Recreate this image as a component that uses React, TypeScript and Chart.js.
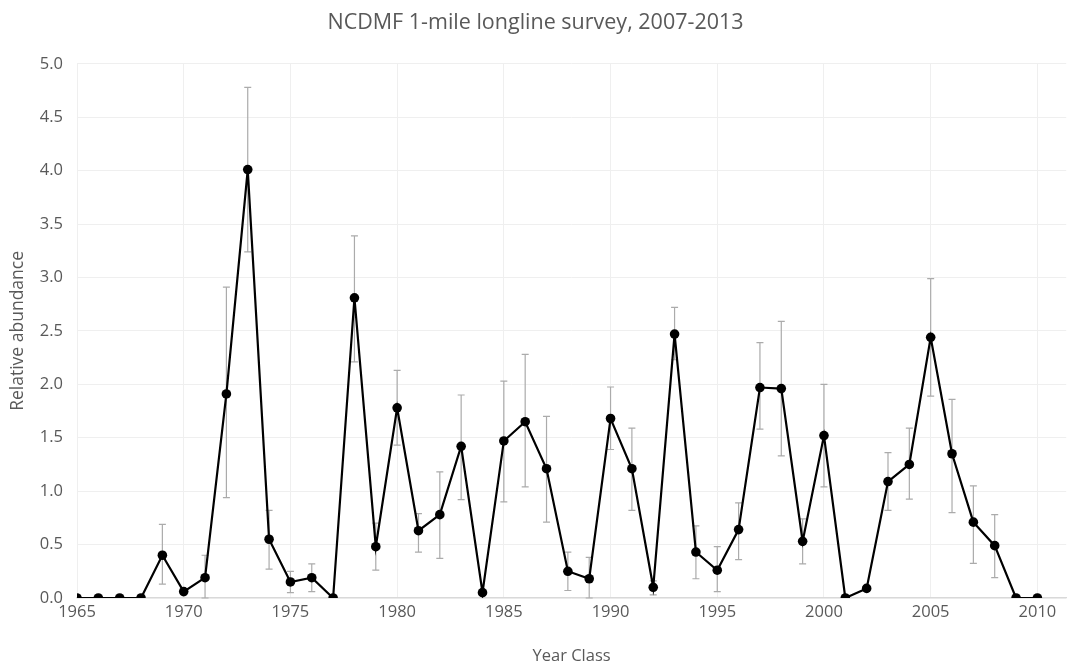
import React, { useEffect, useRef } from "react";
import { Chart, registerables } from "chart.js";

Chart.register(...registerables);

const TITLE = "NCDMF 1-mile longline survey, 2007-2013";
const X_TITLE = "Year Class";
const Y_TITLE = "Relative abundance";

const years = [
  1965, 1966, 1967, 1968, 1969, 1970, 1971, 1972, 1973, 1974,
  1975, 1976, 1977, 1978, 1979, 1980, 1981, 1982, 1983, 1984,
  1985, 1986, 1987, 1988, 1989, 1990, 1991, 1992, 1993, 1994,
  1995, 1996, 1997, 1998, 1999, 2000, 2001, 2002, 2003, 2004,
  2005, 2006, 2007, 2008, 2009, 2010,
];

const xTickValues = [1965, 1970, 1975, 1980, 1985, 1990, 1995, 2000, 2005, 2010];

const abundance = [
  0, 0, 0, 0, 0.40, 0.06, 0.19, 1.91, 4.01, 0.55,
  0.15, 0.19, 0.0, 2.81, 0.48, 1.78, 0.63, 0.78, 1.42, 0.05,
  1.47, 1.65, 1.21, 0.25, 0.18, 1.68, 1.21, 0.10, 2.47, 0.43,
  0.26, 0.64, 1.97, 1.96, 0.53, 1.52, 0.0, 0.09, 1.09, 1.25,
  2.44, 1.35, 0.71, 0.49, 0, 0,
];

const upper: (number | null)[] = [
  null, null, null, null, 0.69, null, 0.40, 2.91, 4.78, 0.82,
  0.25, 0.32, null, 3.39, 0.70, 2.13, 0.79, 1.18, 1.90, null,
  2.03, 2.28, 1.70, 0.43, 0.38, 1.975, 1.59, 0.16, 2.72, 0.675,
  0.48, 0.89, 2.39, 2.59, 0.74, 2.00, null, null, 1.36, 1.59,
  2.99, 1.86, 1.05, 0.78, null, null,
];

const lower: (number | null)[] = [
  null, null, null, null, 0.13, null, 0.0, 0.94, 3.24, 0.27,
  0.05, 0.06, null, 2.21, 0.26, 1.43, 0.43, 0.37, 0.92, null,
  0.90, 1.04, 0.71, 0.07, 0.0, 1.39, 0.82, 0.03, 2.23, 0.18,
  0.06, 0.36, 1.58, 1.33, 0.32, 1.04, null, null, 0.82, 0.925,
  1.89, 0.80, 0.325, 0.19, null, null,
];

const FONT = "'Open Sans', 'Noto Sans', sans-serif";
const GREY = "#595959";

const errorBarPlugin = {
  id: "errorBars",
  beforeDatasetsDraw(chart: any) {
    const { ctx, scales } = chart;
    const xs = scales.x;
    const ys = scales.y;
    ctx.save();
    ctx.strokeStyle = "#ababab";
    ctx.lineWidth = 1.2;
    const cap = 3.5;
    for (let i = 0; i < years.length; i++) {
      const hi = upper[i];
      const lo = lower[i];
      if (hi == null || lo == null) continue;
      const px = xs.getPixelForValue(years[i]);
      const pHi = ys.getPixelForValue(hi);
      const pLo = ys.getPixelForValue(lo);
      ctx.beginPath();
      ctx.moveTo(px, pHi);
      ctx.lineTo(px, pLo);
      ctx.moveTo(px - cap, pHi);
      ctx.lineTo(px + cap, pHi);
      ctx.moveTo(px - cap, pLo);
      ctx.lineTo(px + cap, pLo);
      ctx.stroke();
    }
    ctx.restore();
  },
};

export default function App() {
  const ref = useRef<HTMLCanvasElement | null>(null);

  useEffect(() => {
    if (!ref.current) return;
    const chart = new Chart(ref.current, {
      type: "scatter",
      data: {
        datasets: [
          {
            label: "Relative abundance",
            data: years.map((y, i) => ({ x: y, y: abundance[i] })),
            showLine: true,
            borderColor: "#000000",
            backgroundColor: "#000000",
            borderWidth: 2.2,
            pointRadius: 4.8,
            pointHoverRadius: 4.8,
            pointBorderWidth: 0,
            tension: 0,
          },
        ],
      },
      options: {
        animation: false,
        responsive: false,
        maintainAspectRatio: false,
        layout: { padding: { left: 0, right: 0, top: 0, bottom: 0 } },
        plugins: {
          legend: { display: false },
          tooltip: { enabled: false },
          title: {
            display: true,
            text: TITLE,
            color: GREY,
            font: { family: FONT, size: 21.5, weight: "normal" },
            padding: { top: 10, bottom: 28 },
          },
        },
        scales: {
          x: {
            type: "linear",
            min: 1965,
            max: 2011.35,
            afterBuildTicks: (scale: any) => {
              scale.ticks = xTickValues.map((v) => ({ value: v }));
            },
            afterFit: (scale: any) => {
              scale.height = 68;
            },
            ticks: {
              color: GREY,
              font: { family: FONT, size: 16.5 },
              padding: 4,
              maxRotation: 0,
              autoSkip: false,
              callback: (v: any) => String(v),
            },
            grid: {
              color: "#efefef",
              drawTicks: false,
              lineWidth: 1,
            },
            border: { display: true, color: "#d9d9d9", width: 1.2 },
            title: {
              display: true,
              text: X_TITLE,
              color: GREY,
              font: { family: FONT, size: 16.5 },
              padding: { top: 2, bottom: 0 },
            },
          },
          y: {
            type: "linear",
            min: 0,
            max: 5,
            afterFit: (scale: any) => {
              scale.width = 77;
            },
            ticks: {
              stepSize: 0.5,
              color: GREY,
              font: { family: FONT, size: 16.5 },
              padding: 14,
              callback: (v: any) => Number(v).toFixed(1),
            },
            grid: {
              color: "#efefef",
              drawTicks: false,
              lineWidth: 1,
            },
            border: { display: false },
            title: {
              display: true,
              text: Y_TITLE,
              color: GREY,
              font: { family: FONT, size: 17.5 },
              padding: { top: 8, bottom: 0 },
            },
          },
        },
      },
      plugins: [errorBarPlugin],
    });
    return () => chart.destroy();
  }, []);

  return (
    <div
      style={{
        position: "fixed",
        left: 0,
        top: 0,
        width: 1071,
        height: 666,
        background: "#ffffff",
      }}
    >
      <canvas ref={ref} width={1071} height={666} style={{ width: 1071, height: 666 }} />
    </div>
  );
}
